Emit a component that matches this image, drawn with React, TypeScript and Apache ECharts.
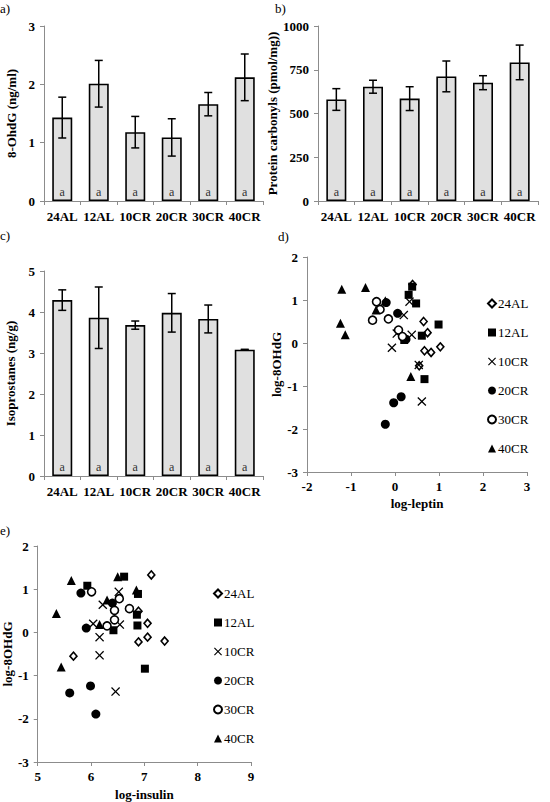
import React, { useEffect, useRef } from "react";
import * as echarts from "echarts";

const FONT = "Liberation Serif";

const categories = ["24AL", "12AL", "10CR", "20CR", "30CR", "40CR"];
const groupLetters = ["a", "a", "a", "a", "a", "a"];

const ohdgMean = [1.43, 2.01, 1.18, 1.09, 1.66, 2.12];
const ohdgErr = [0.35, 0.4, 0.27, 0.32, 0.2, 0.4];
const carbMean = [580, 653, 585, 712, 676, 792];
const carbErr = [62, 37, 68, 88, 40, 99];
const isoMean = [4.29, 3.86, 3.68, 3.98, 3.83, 3.08];
const isoErr = [0.25, 0.75, 0.1, 0.47, 0.34, 0.01];

// panel d: [log-leptin, log-8OHdG]
const leptin24AL = [[0.4, 1.36], [0.65, 0.5], [0.74, 0.24], [0.67, -0.18], [0.82, -0.22], [1.03, -0.09], [0.55, -0.53]];
const leptin12AL = [[0.39, 1.31], [0.31, 1.12], [0.48, 0.92], [0.99, 0.43], [0.61, 0.17], [0.21, 0.07], [0.67, -0.84]];
const leptin10CR = [[0.33, 0.96], [0.2, 0.65], [0.04, 0.22], [0.38, 0.19], [-0.07, -0.11], [0.54, -0.51], [0.61, -1.36]];
const leptin20CR = [[-0.2, 0.94], [0.06, 0.69], [0.25, 0.09], [-0.03, -1.39], [0.14, -1.25], [-0.22, -1.89]];
const leptin30CR = [[-0.42, 0.96], [-0.34, 0.78], [-0.51, 0.53], [-0.15, 0.56], [0.08, 0.3], [0.17, 0.15]];
const leptin40CR = [[-1.21, 1.25], [-0.67, 1.29], [-1.24, 0.46], [-1.13, 0.19], [-0.43, 0.77], [-0.22, 0.98], [0.36, -0.78]];

// panel e: [log-insulin, log-8OHdG]
const insulin24AL = [[7.13, 1.33], [6.89, 0.49], [7.06, 0.21], [7.06, -0.11], [6.89, -0.22], [7.38, -0.2], [5.67, -0.55]];
const insulin12AL = [[5.93, 1.08], [6.62, 1.29], [6.88, 0.89], [6.86, 0.41], [6.87, 0.16], [6.42, 0.05], [7.01, -0.84]];
const insulin10CR = [[6.52, 0.94], [6.22, 0.64], [6.04, 0.2], [6.54, 0.18], [6.16, -0.11], [6.16, -0.53], [6.46, -1.37]];
const insulin20CR = [[5.81, 0.91], [6.4, 0.68], [5.91, 0.1], [5.99, -1.24], [5.6, -1.4], [6.09, -1.89]];
const insulin30CR = [[6.01, 0.94], [6.53, 0.78], [6.44, 0.51], [6.72, 0.55], [6.44, 0.29], [6.3, 0.15]];
const insulin40CR = [[5.63, 1.2], [6.5, 1.29], [6.85, 0.98], [6.3, 0.75], [5.35, 0.44], [6.16, 0.18], [5.44, -0.8]];

const leptinData = [leptin24AL, leptin12AL, leptin10CR, leptin20CR, leptin30CR, leptin40CR];
const insulinData = [insulin24AL, insulin12AL, insulin10CR, insulin20CR, insulin30CR, insulin40CR];

const CROSS = "path://M0,1L1,0L5,4L9,0L10,1L6,5L10,9L9,10L5,6L1,10L0,9L4,5Z";
const markerStyles: any[] = [
  { symbol: "diamond", symbolSize: [7, 8], itemStyle: { color: "#fff", borderColor: "#000", borderWidth: 1.6, opacity: 1 } },
  { symbol: "rect", symbolSize: 8, itemStyle: { color: "#000", opacity: 1 } },
  { symbol: CROSS, symbolSize: 9, itemStyle: { color: "#000", opacity: 1 } },
  { symbol: "circle", symbolSize: 9, itemStyle: { color: "#000", opacity: 1 } },
  { symbol: "circle", symbolSize: 8, itemStyle: { color: "#fff", borderColor: "#000", borderWidth: 1.6, opacity: 1 } },
  { symbol: "triangle", symbolSize: 9, itemStyle: { color: "#000", opacity: 1 } },
];

const AXIS_GRAY = "#8c8c8c";
const labelStyle = { color: "#000", fontFamily: FONT, fontSize: 13, fontWeight: "bold" as const };

function barXAxis(gridIndex: number) {
  return {
    type: "category",
    gridIndex,
    data: categories,
    axisLine: { show: true, lineStyle: { color: AXIS_GRAY, width: 1 } },
    axisTick: { show: true, alignWithLabel: false, length: 4, lineStyle: { color: AXIS_GRAY } },
    axisLabel: { ...labelStyle, margin: 9, interval: 0 },
    splitLine: { show: false },
  };
}

function valueAxis(gridIndex: number, min: number, max: number, interval: number, name: string, nameGap: number, isY: boolean) {
  return {
    type: "value",
    gridIndex,
    min,
    max,
    interval,
    name,
    nameLocation: "middle",
    nameGap,
    nameTextStyle: { ...labelStyle },
    axisLine: { show: true, onZero: false, lineStyle: { color: AXIS_GRAY, width: 1 } },
    axisTick: { show: true, length: 4, lineStyle: { color: AXIS_GRAY } },
    axisLabel: { ...labelStyle, margin: isY ? 9 : 8, formatter: (v: number) => String(v) },
    splitLine: { show: false },
  };
}

function barSeries(idx: number, means: number[]) {
  return {
    type: "bar",
    xAxisIndex: idx,
    yAxisIndex: idx,
    data: means,
    barWidth: 20,
    itemStyle: { color: "#e0e0e0", borderColor: "#000", borderWidth: 1.6 },
    label: {
      show: true,
      position: "insideBottom",
      distance: 3,
      formatter: (p: any) => groupLetters[p.dataIndex],
      fontFamily: FONT,
      fontSize: 12,
      color: "#333",
    },
    silent: true,
  };
}

function errorSeries(idx: number, means: number[], errs: number[]) {
  return {
    type: "custom",
    xAxisIndex: idx,
    yAxisIndex: idx,
    data: means.map((m, i) => [i, m, errs[i]]),
    silent: true,
    z: 5,
    renderItem: (params: any, api: any) => {
      const x = api.value(0);
      const m = api.value(1);
      const e = api.value(2);
      const top = api.coord([x, m + e]);
      const bot = api.coord([x, m - e]);
      const hw = 4;
      const st = { stroke: "#000", lineWidth: 1.5 };
      return {
        type: "group",
        children: [
          { type: "line", shape: { x1: top[0], y1: top[1], x2: bot[0], y2: bot[1] }, style: st },
          { type: "line", shape: { x1: top[0] - hw, y1: top[1], x2: top[0] + hw, y2: top[1] }, style: st },
          { type: "line", shape: { x1: bot[0] - hw, y1: bot[1], x2: bot[0] + hw, y2: bot[1] }, style: st },
        ],
      };
    },
  };
}

function scatterSeries(idx: number, data: number[][][]) {
  return categories.map((name, k) => ({
    type: "scatter",
    name,
    xAxisIndex: idx,
    yAxisIndex: idx,
    data: data[k],
    symbol: markerStyles[k].symbol,
    symbolSize: markerStyles[k].symbolSize,
    itemStyle: markerStyles[k].itemStyle,
    silent: true,
  }));
}

function legend(left: number, top: number) {
  return {
    orient: "vertical",
    left,
    top,
    itemGap: 16,
    itemWidth: 8,
    itemHeight: 8,
    selectedMode: false,
    data: categories,
    textStyle: { color: "#000", fontFamily: FONT, fontSize: 13, padding: [0, 0, 0, -3] },
  };
}

function panelLabel(text: string, x: number, y: number) {
  return { type: "text", left: x, top: y, style: { text, fill: "#000", fontFamily: FONT, fontSize: 13 } };
}

export default function App() {
  const ref = useRef<HTMLDivElement>(null);
  useEffect(() => {
    if (!ref.current) return;
    const chart = echarts.init(ref.current, undefined, { renderer: "svg" });
    const option: any = {
      animation: false,
      backgroundColor: "#fff",
      textStyle: { fontFamily: FONT },
      grid: [
        { left: 44, top: 26, width: 219, height: 175 },
        { left: 318, top: 26, width: 220, height: 175 },
        { left: 44, top: 271, width: 219, height: 205 },
        { left: 307, top: 257, width: 220, height: 215 },
        { left: 37, top: 546, width: 214, height: 217 },
      ],
      xAxis: [
        barXAxis(0),
        barXAxis(1),
        barXAxis(2),
        valueAxis(3, -2, 3, 1, "log-leptin", 25, false),
        valueAxis(4, 5, 9, 1, "log-insulin", 26, false),
      ],
      yAxis: [
        valueAxis(0, 0, 3, 1, "8-OhdG (ng/ml)", 26, true),
        valueAxis(1, 0, 1000, 250, "Protein carbonyls (pmol/mg))", 30, true),
        valueAxis(2, 0, 5, 1, "Isoprostanes (ng/g)", 27, true),
        valueAxis(3, -3, 2, 1, "log-8OHdG", 21, true),
        valueAxis(4, -3, 2, 1, "log-8OHdG", 22, true),
      ],
      legend: [legend(482, 292), legend(208, 582)],
      graphic: [
        panelLabel("a)", 0, 2),
        panelLabel("b)", 275, 2),
        panelLabel("c)", 0, 229),
        panelLabel("d)", 278, 230),
        panelLabel("e)", 0, 524),
      ],
      series: [
        barSeries(0, ohdgMean),
        errorSeries(0, ohdgMean, ohdgErr),
        barSeries(1, carbMean),
        errorSeries(1, carbMean, carbErr),
        barSeries(2, isoMean),
        errorSeries(2, isoMean, isoErr),
        ...scatterSeries(3, leptinData),
        ...scatterSeries(4, insulinData),
      ],
    };
    chart.setOption(option);
    return () => chart.dispose();
  }, []);
  return (
    <div
      ref={ref}
      style={{ position: "absolute", left: 0, top: 0, width: 550, height: 802, background: "#fff" }}
    />
  );
}
